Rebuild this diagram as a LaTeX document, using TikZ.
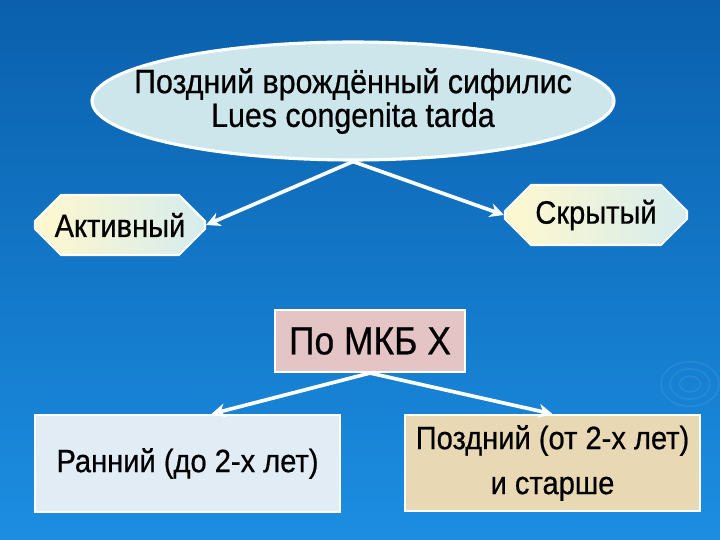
\documentclass[tikz,border=0pt]{standalone}
\usepackage{fontspec}
\setmainfont[FakeStretch=0.9, FakeBold=0.6]{Liberation Sans}
\usetikzlibrary{shapes.geometric, shapes.misc, arrows.meta}

\definecolor{bgtop}{RGB}{10,96,172}
\definecolor{bgbot}{RGB}{28,142,226}
\definecolor{ellfill}{RGB}{205,230,236}
\definecolor{octleft}{RGB}{255,248,206}
\definecolor{octright}{RGB}{214,236,238}
\definecolor{mkbfill}{RGB}{229,196,198}
\definecolor{earlyfill}{RGB}{226,236,245}
\definecolor{latefill}{RGB}{233,216,180}

\tikzset{
    formbox/.style={chamfered rectangle, chamfered rectangle xsep=0.3cm, chamfered rectangle ysep=0.35cm, draw=white, line width=1.5pt, left color=octleft, right color=octright, inner sep=0pt, font=\fontsize{23}{27}\selectfont},
    agebox/.style={rectangle, draw=white, line width=1.5pt, align=center, inner sep=0pt, font=\fontsize{23}{32}\selectfont},
    flow/.style={->, white, line width=2.6pt, >={Stealth[length=10pt, width=10pt]}}
}

\begin{document}
\begin{tikzpicture}
    % Background
    \useasboundingbox (0,0) rectangle (18,13.5);
    \shade[top color=bgtop, bottom color=bgbot] (0,0) rectangle (18,13.5);
    \foreach \r in {0.2,0.38,0.56}
        \draw[white, opacity=0.08, line width=1pt] (17.25,3.9) ellipse ({\r*1.3} and \r);

    % Main diagnosis
    \node[ellipse, draw=white, line width=2.2pt, fill=ellfill, minimum width=13.05cm, minimum height=2.95cm, inner sep=0pt] (LATE) at (8.825,10.975) {};
    \node[align=center, font=\fontsize{24}{24}\selectfont] (LATETXT) at (LATE.center) {Поздний врождённый сифилис\\Lues congenita tarda};

    % Forms
    \node[formbox, minimum width=4.25cm, minimum height=1.5cm] (ACTIVE) at (3.0,7.875) {Активный};
    \node[formbox, minimum width=4.55cm, minimum height=1.5cm] (HIDDEN) at (14.9,8.125) {Скрытый};

    % ICD classification
    \node[rectangle, draw=white, line width=1.5pt, fill=mkbfill, minimum width=4.75cm, minimum height=1.55cm, font=\fontsize{28}{30}\selectfont] (MKB) at (9.25,4.975) {По МКБ Х};

    % Age groups
    \node[agebox, fill=earlyfill, minimum width=7.625cm, minimum height=2.425cm] (EARLY) at (4.6875,1.9125) {Ранний (до 2-х лет)};
    \node[agebox, fill=latefill, minimum width=7.375cm, minimum height=2.4cm] (OLDER) at (13.8125,1.925) {Поздний (от 2-х лет)\\и старше};

    % Connections
    \draw[flow] (LATE.south) -- (ACTIVE.east);
    \draw[flow] (LATE.south) -- (HIDDEN.west);
    \draw[flow] (MKB.south) -- ([xshift=0.6cm]EARLY.north);
    \draw[flow] (MKB.south) -- (OLDER.north);
\end{tikzpicture}
\end{document}
